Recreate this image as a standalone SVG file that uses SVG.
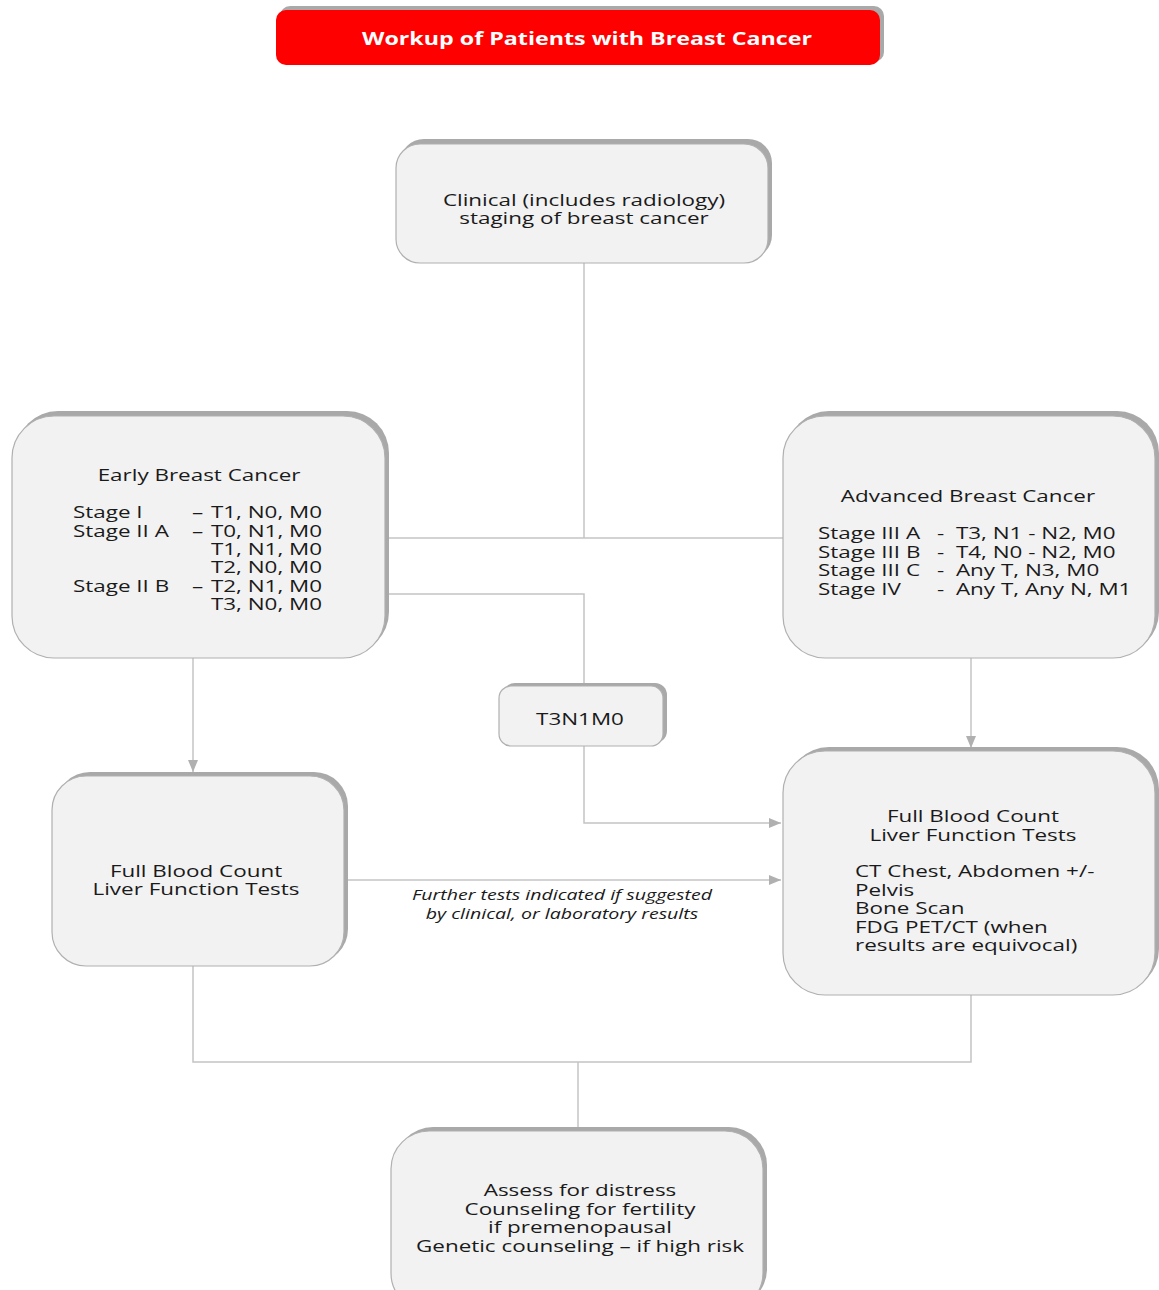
<svg xmlns="http://www.w3.org/2000/svg" width="1159" height="1290" viewBox="0 0 1159 1290">
<style>
.sh{fill:#a9a9a9}
.box{fill:#f2f2f2;stroke:#b0b0b0;stroke-width:1.2}
.t{font-family:"Open Sans","Noto Sans",sans-serif;font-size:17px;fill:#1a1a1a}
.c{text-anchor:middle}
.it{font-family:"Open Sans","Noto Sans",sans-serif;font-size:14.5px;font-style:italic;fill:#1a1a1a;text-anchor:middle}
.ln{fill:none;stroke:#c4c4c4;stroke-width:1.5}
</style>
<defs>
<marker id="ah" markerWidth="12" markerHeight="10" refX="12" refY="5" orient="auto" markerUnits="userSpaceOnUse">
<path d="M0,0 L12,5 L0,10 Z" fill="#b0b0b0"/>
</marker>
</defs>
<rect width="1159" height="1290" fill="#ffffff"/>

<g id="connectors">
<path class="ln" d="M584,263 V538"/>
<path class="ln" d="M386,538 H783"/>
<path class="ln" d="M386,594 H584 V685"/>
<path class="ln" d="M584,746 V823 H781" marker-end="url(#ah)"/>
<path class="ln" d="M193,658 V772" marker-end="url(#ah)"/>
<path class="ln" d="M971,658 V748" marker-end="url(#ah)"/>
<path class="ln" d="M346,880 H781" marker-end="url(#ah)"/>
<path class="ln" d="M193,966 V1062 H971 V995"/>
<path class="ln" d="M578,1062 V1130"/>
<g transform="translate(562,0) scale(1.35,1)">
<text class="it" x="0" y="900">Further tests indicated if suggested</text>
<text class="it" x="0" y="919">by clinical, or laboratory results</text>
</g>
</g>

<g id="title">
<rect x="280" y="6" width="604" height="56" rx="10" fill="#a9a9a9"/>
<rect x="276" y="10" width="604" height="55" rx="10" fill="#ff0000"/>
<text transform="translate(587,45) scale(1.25,1)" x="0" y="0" text-anchor="middle" font-family="Open Sans,Noto Sans,sans-serif" font-size="18.6" font-weight="bold" fill="#ffffff">Workup of Patients with Breast Cancer</text>
</g>

<g id="clinical">
<rect class="sh" x="400" y="139" width="372" height="120" rx="24"/>
<rect class="box" x="396" y="144" width="372" height="119" rx="24"/>
<g transform="translate(584,0) scale(1.32,1)">
<text class="t c" x="0" y="206">Clinical (includes radiology)</text>
<text class="t c" x="0" y="224">staging of breast cancer</text>
</g>
</g>

<g id="early">
<rect class="sh" x="16" y="411" width="373" height="243" rx="42"/>
<rect class="box" x="12" y="416" width="373" height="242" rx="42"/>
<g transform="translate(73,0) scale(1.32,1)">
<text class="t c" x="95.5" y="481">Early Breast Cancer</text>
<text class="t" x="0" y="518">Stage I</text>
<text class="t" x="0" y="537">Stage II A</text>
<text class="t" x="0" y="592">Stage II B</text>
<text class="t" x="90.2" y="518">–</text>
<text class="t" x="90.2" y="537">–</text>
<text class="t" x="90.2" y="592">–</text>
<text class="t" x="104.5" y="518">T1, N0, M0</text>
<text class="t" x="104.5" y="537">T0, N1, M0</text>
<text class="t" x="104.5" y="555">T1, N1, M0</text>
<text class="t" x="104.5" y="573">T2, N0, M0</text>
<text class="t" x="104.5" y="592">T2, N1, M0</text>
<text class="t" x="104.5" y="610">T3, N0, M0</text>
</g>
</g>

<g id="advanced">
<rect class="sh" x="787" y="411" width="372" height="243" rx="42"/>
<rect class="box" x="783" y="416" width="372" height="242" rx="42"/>
<g transform="translate(818,0) scale(1.32,1)">
<text class="t c" x="113.6" y="502">Advanced Breast Cancer</text>
<text class="t" x="0" y="539">Stage III A</text>
<text class="t" x="0" y="558">Stage III B</text>
<text class="t" x="0" y="576">Stage III C</text>
<text class="t" x="0" y="595">Stage IV</text>
<text class="t" x="90.2" y="539">-</text>
<text class="t" x="90.2" y="558">-</text>
<text class="t" x="90.2" y="576">-</text>
<text class="t" x="90.2" y="595">-</text>
<text class="t" x="104.5" y="539">T3, N1 - N2, M0</text>
<text class="t" x="104.5" y="558">T4, N0 - N2, M0</text>
<text class="t" x="104.5" y="576">Any T, N3, M0</text>
<text class="t" x="104.5" y="595">Any T, Any N, M1</text>
</g>
</g>

<g id="t3n1m0">
<rect class="sh" x="503" y="683" width="164" height="60" rx="12"/>
<rect class="box" x="499" y="686" width="164" height="60" rx="12"/>
<text class="t c" transform="translate(580,725) scale(1.32,1)" x="0" y="0">T3N1M0</text>
</g>

<g id="fbc-left">
<rect class="sh" x="56" y="772" width="292" height="191" rx="34"/>
<rect class="box" x="52" y="776" width="292" height="190" rx="34"/>
<g transform="translate(196,0) scale(1.32,1)">
<text class="t c" x="0" y="877">Full Blood Count</text>
<text class="t c" x="0" y="895">Liver Function Tests</text>
</g>
</g>

<g id="fbc-right">
<rect class="sh" x="787" y="747" width="372" height="244" rx="42"/>
<rect class="box" x="783" y="751" width="372" height="244" rx="42"/>
<g transform="translate(855,0) scale(1.32,1)">
<text class="t c" x="89.4" y="822">Full Blood Count</text>
<text class="t c" x="89.4" y="841">Liver Function Tests</text>
<text class="t" x="0" y="877">CT Chest, Abdomen +/-</text>
<text class="t" x="0" y="896">Pelvis</text>
<text class="t" x="0" y="914">Bone Scan</text>
<text class="t" x="0" y="933">FDG PET/CT  (when</text>
<text class="t" x="0" y="951">results are equivocal)</text>
</g>
</g>

<g id="assess">
<rect class="sh" x="395" y="1127" width="372" height="180" rx="38"/>
<rect class="box" x="391" y="1131" width="372" height="180" rx="38"/>
<g transform="translate(580,0) scale(1.32,1)">
<text class="t c" x="0" y="1196">Assess for distress</text>
<text class="t c" x="0" y="1215">Counseling for fertility</text>
<text class="t c" x="0" y="1233">if premenopausal</text>
<text class="t c" x="0" y="1252">Genetic counseling – if high risk</text>
</g>
</g>
</svg>
